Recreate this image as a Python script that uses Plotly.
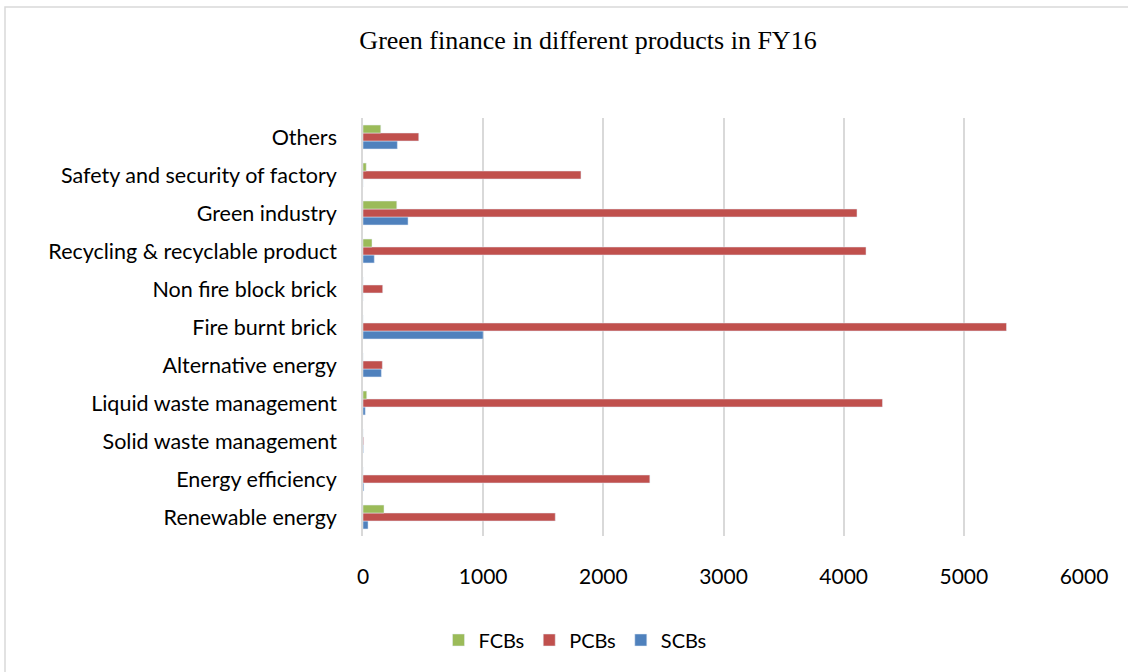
import plotly.graph_objects as go

categories = ["Renewable energy", "Energy efficiency", "Solid waste management",
              "Liquid waste management", "Alternative energy", "Fire burnt brick",
              "Non fire block brick", "Recycling & recyclable product", "Green industry",
              "Safety and security of factory", "Others"]
fcbs = [175, 0, 0, 31, 0, 0, 0, 75, 281, 27, 148]
pcbs = [1600, 2387, 5, 4323, 161, 5355, 164, 4186, 4111, 1814, 464]
scbs = [42, 7, 3, 19, 153, 1000, 0, 94, 375, 0, 286]
x_ticks = [0, 1000, 2000, 3000, 4000, 5000, 6000]

fig = go.Figure()
fig.add_trace(go.Bar(y=categories, x=scbs, name="SCBs", orientation="h",
                     marker=dict(color="#4F81BD")))
fig.add_trace(go.Bar(y=categories, x=pcbs, name="PCBs", orientation="h",
                     marker=dict(color="#C0504D")))
fig.add_trace(go.Bar(y=categories, x=fcbs, name="FCBs", orientation="h",
                     marker=dict(color="#9BBB59")))

fig.update_layout(
    width=1128, height=672,
    paper_bgcolor="white", plot_bgcolor="white",
    barmode="group", bargap=0.37, bargroupgap=0,
    margin=dict(l=363, r=44, t=118, b=136),
    title=dict(text="Green finance in different products in FY16",
               x=588/1128, xanchor="center", y=1-40/672, yanchor="middle",
               font=dict(family="Liberation Serif", size=26, color="#000000")),
    font=dict(family="Lato", size=21, color="#000000"),
    xaxis=dict(range=[0, 6000], tickvals=x_ticks, showgrid=True,
               gridcolor="#D9D9D9", gridwidth=1.5, zeroline=False,
               showline=False, ticks="", ticklabelstandoff=26,
               tickfont=dict(family="Lato", size=21)),
    yaxis=dict(showline=True, linecolor="#D9D9D9", linewidth=1.5,
               ticks="", ticklabelstandoff=20, showgrid=False,
               tickfont=dict(family="Lato", size=21.5)),
    legend=dict(orientation="h", traceorder="reversed", x=(575-363)/721,
                xanchor="center", y=(536-640)/418, yanchor="middle",
                font=dict(family="Lato", size=20), itemwidth=30),
    shapes=[dict(type="rect", xref="paper", yref="paper",
                 x0=(5-363)/721, x1=(1135-363)/721,
                 y0=(536-680)/418, y1=(536-7)/418,
                 line=dict(color="#D9D9D9", width=1.5), layer="below")],
)

fig.write_html("out.html", config={"displayModeBar": False},
               post_script="document.body.style.margin='0';document.body.style.padding='0';")
